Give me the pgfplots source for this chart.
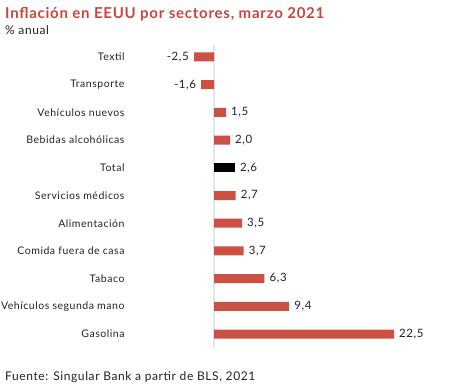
\documentclass[border=0pt]{standalone}
\usepackage{pgfplots}
\pgfplotsset{compat=1.18}
\usepackage{fontspec}
\setmainfont{Lato}[LetterSpace=5]
\definecolor{barred}{HTML}{CC5043}
\definecolor{titlered}{HTML}{C8463B}
\definecolor{txt}{HTML}{222222}
\begin{document}
\begin{tikzpicture}
\useasboundingbox (0,0) rectangle (449bp,390bp);
\node[anchor=west, inner sep=0pt, text=titlered, font=\fontsize{15bp}{17bp}\selectfont\bfseries] at (5bp,376bp) {Inflación en EEUU por sectores, marzo 2021};
\node[anchor=west, inner sep=0pt, text=txt, font=\fontsize{12bp}{14bp}\selectfont] at (5bp,360bp) {\% anual};
\node[anchor=west, inner sep=0pt, text=txt, font=\fontsize{12bp}{14bp}\selectfont] at (5bp,13bp) {Fuente: Singular Bank a partir de BLS, 2021};
\begin{axis}[
  at={(128bp,42bp)}, anchor=south west,
  scale only axis, width=306bp, height=303bp,
  xmin=-10.75, xmax=27.5,
  ymin=-0.433, ymax=10.505, y dir=reverse,
  xbar, bar width=9bp, bar shift=0pt,
  axis line style={draw=none},
  major tick length=0pt,
  xtick=\empty,
  extra x ticks={0}, extra x tick labels={},
  extra x tick style={grid=major, major grid style={draw=black!10, line width=1.2bp}},
  ytick={0,...,10},
  yticklabels={Textil, Transporte, Vehículos nuevos, Bebidas alcohólicas, Total, Servicios médicos, Alimentación, Comida fuera de casa, Tabaco, Vehículos segunda mano, Gasolina},
  yticklabel style={font=\fontsize{10.5bp}{12bp}\selectfont, text=txt},
  nodes near coords,
  nodes near coords style={font=\fontsize{11.5bp}{13bp}\selectfont, text=txt, inner sep=5bp},
  nodes near coords style={/pgf/number format/.cd, use comma, fixed, fixed zerofill, precision=1},
  /pgf/number format/assume math mode=true,
]
\addplot[fill=barred, draw=none] coordinates {
(-2.5,0) (-1.6,1) (1.5,2) (2.0,3) (2.7,5) (3.5,6) (3.7,7) (6.3,8) (9.4,9) (22.5,10)
};
\addplot[fill=black, draw=none] coordinates {(2.6,4)};
\end{axis}
\end{tikzpicture}
\end{document}
